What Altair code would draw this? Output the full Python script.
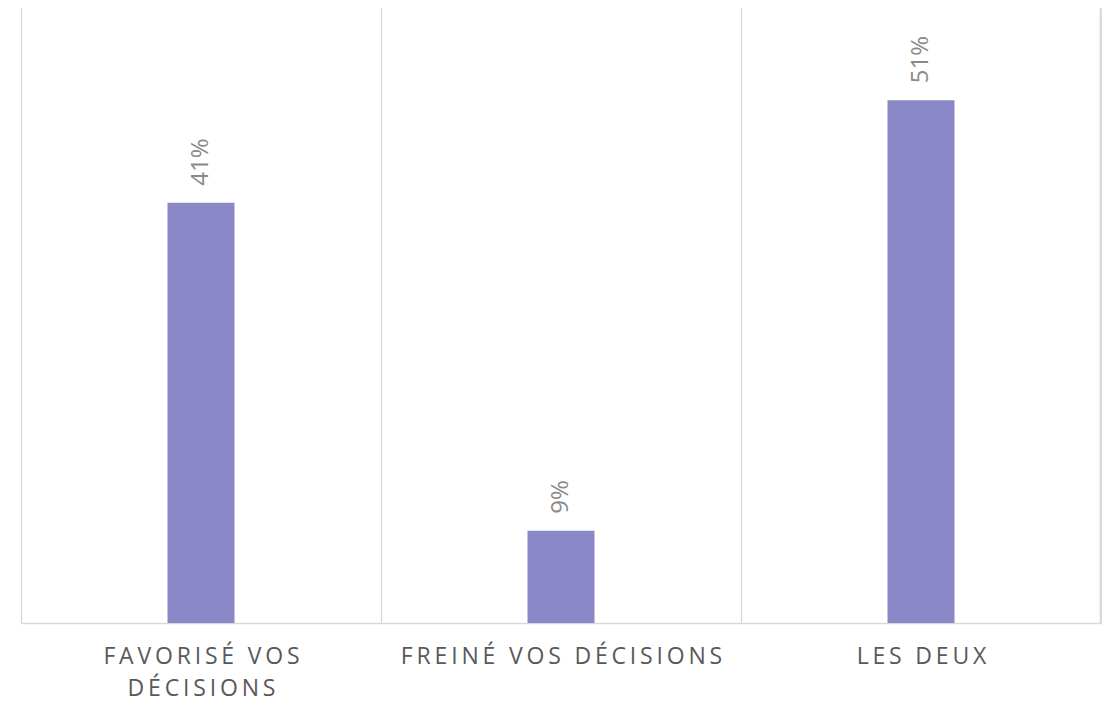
import altair as alt
import pandas as pd

categories = ["FAVORISÉ VOS DÉCISIONS", "FREINÉ VOS DÉCISIONS", "LES DEUX"]
values = [0.41, 0.09, 0.51]
labels = ["41%", "9%", "51%"]

df = pd.DataFrame({"cat": categories, "val": values, "lab": labels})

W, H = 1080, 615

# letter-spaced rendering of the category labels (thin spaces between letters)
sp = "join(split({s}, ''), '\u2009')"
label_expr = ("!isValid(datum.value) ? '' : datum.value == 'FAVORISÉ VOS DÉCISIONS' ? "
              "[" + sp.format(s="'FAVORISÉ VOS'") + ", " + sp.format(s="'DÉCISIONS'") + "] : "
              + sp.format(s="datum.value"))

x = alt.X(
    "cat:N", sort=categories, title=None,
    scale=alt.Scale(paddingInner=0, paddingOuter=0),
    axis=alt.Axis(grid=True, tickBand="extent", gridColor="#d9d9d9", gridWidth=1.3,
                  domainColor="#d9d9d9", domainWidth=1.3, ticks=False, labelAngle=0,
                  labelFont="Open Sans", labelFontSize=23, labelColor="#595959",
                  labelPadding=22, labelLineHeight=32, labelLimit=600,
                  labelBaseline="top", labelExpr=label_expr),
)
y = alt.Y("val:Q", scale=alt.Scale(domain=[0, 0.6]), axis=None)

bars = alt.Chart(df).mark_bar(size=67, color="#8987C6").encode(x=x, y=y)
text = alt.Chart(df).mark_text(
    angle=270, align="left", baseline="middle", yOffset=-17,
    font="Open Sans", fontSize=24, color="#8a8a8a",
).encode(x=x, y=y, text="lab:N")

# right-hand frame line of the last category band
edge = alt.Chart(pd.DataFrame({"k": [0]})).mark_rule(
    color="#d9d9d9", strokeWidth=1.3
).encode(x=alt.value(W - 0.7), y=alt.value(0), y2=alt.value(H))

chart = (bars + text + edge).properties(
    width=W, height=H,
    autosize=alt.AutoSizeParams(type="none"),
    padding={"left": 13, "top": 0, "right": 1, "bottom": 79},
).configure_view(stroke=None)

chart.save("out.html", embed_options={"renderer": "svg", "actions": False})
